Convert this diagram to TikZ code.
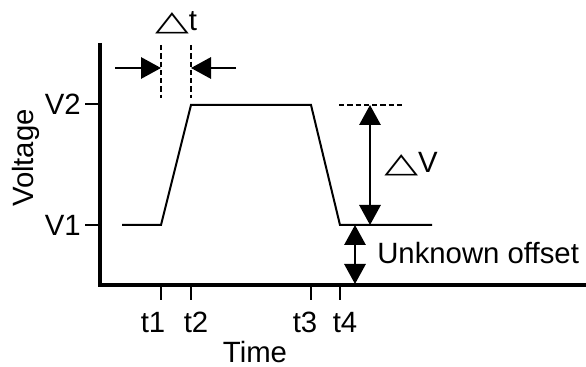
\documentclass[tikz,border=0pt]{standalone}
\usepackage{fontspec}
\setmainfont{Liberation Sans}
\newfontfamily\symfont{DejaVu Sans}
\usepackage{graphicx}
\usetikzlibrary{arrows.meta}

\newcommand{\tri}{{\symfont\scalebox{1.5}[0.95]{△}}}

\begin{document}
\begin{tikzpicture}[
  x=0.75pt, y=-0.75pt,
  >={Triangle[length=15pt, width=16pt]},
  every node/.style={font=\fontsize{22}{26}\selectfont, inner sep=0pt},
  axis/.style={line width=2.3pt},
  trace/.style={line width=1.5pt},
  guide/.style={line width=1.5pt, dash pattern=on 4pt off 2.2pt},
  dim/.style={line width=1.5pt},
]
\useasboundingbox (0,0) rectangle (586,367);

% Axes
\coordinate (top) at (100,43);
\coordinate (origin) at (100,285);
\coordinate (right) at (586,285);
\draw[axis] (top) -- (origin) -- (right);

% Voltage levels
\coordinate (v2) at (100,104);
\coordinate (v1) at (100,225);
\draw[trace] (v2) -- ++(-15,0);
\draw[trace] (v1) -- ++(-15,0);
\node[anchor=east] (v2lab) at (81,104) {V2};
\node[anchor=east] (v1lab) at (81,225) {V1};
\node[rotate=90, anchor=base] (ylab) at (33,158) {Voltage};

% Time ticks
\foreach \x/\lx/\n in {161/153/1, 191/196/2, 311/305/3, 340/345/4} {
  \draw[trace] (\x,285) -- (\x,300);
  \node[anchor=base] (t\n) at (\lx,332) {t\n};
}
\node[anchor=base] (xlab) at (255,362) {Time};

% Pulse
\coordinate (p0) at (122,225);
\coordinate (p1) at (161,225);
\coordinate (p2) at (191,105);
\coordinate (p3) at (311,105);
\coordinate (p4) at (340,225);
\coordinate (p5) at (432,225);
\draw[trace] (p0) -- (p1) -- (p2) -- (p3) -- (p4) -- (p5);

% Rise time
\coordinate (d1top) at (161,45);
\coordinate (d1bot) at (161,98);
\coordinate (d2top) at (191,45);
\coordinate (d2bot) at (191,98);
\draw[guide] (d1top) -- (d1bot);
\draw[guide] (d2top) -- (d2bot);
\coordinate (a1) at (115,68);
\coordinate (a1end) at (161,68);
\coordinate (a2) at (236,68);
\coordinate (a2end) at (191,68);
\draw[dim, ->] (a1) -- (a1end);
\draw[dim, ->] (a2) -- (a2end);
\node[anchor=base] (dtlab) at (176,31) {\tri t};

% Amplitude
\coordinate (hl) at (339,105);
\coordinate (hr) at (402,105);
\draw[guide] (hl) -- (hr);
\coordinate (dvtop) at (370,105);
\coordinate (dvbot) at (370,225);
\draw[dim, <->] (dvtop) -- (dvbot);
\node[anchor=base west] (dvlab) at (384,173) {\tri V};

% Offset
\coordinate (oftop) at (355,225);
\coordinate (ofbot) at (355,284);
\draw[dim, <->] (oftop) -- (ofbot);
\node[anchor=base west] (oflab) at (377,263) {Unknown offset};
\end{tikzpicture}
\end{document}
